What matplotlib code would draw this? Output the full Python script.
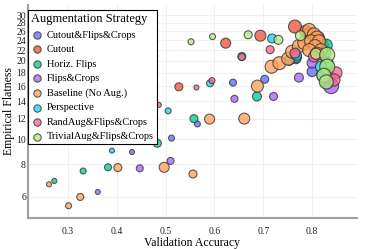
import matplotlib
matplotlib.use("Agg")
import matplotlib.pyplot as plt
from matplotlib.ticker import FixedLocator, FixedFormatter, NullLocator

plt.rcParams['font.family'] = ['Liberation Serif', 'DejaVu Serif']

# validation accuracy / empirical flatness / marker weight per strategy
acc_cfc = [0.431, 0.475, 0.512, 0.565, 0.638, 0.703, 0.767, 0.800, 0.835]
flat_cfc = [8.93, 20.6, 10.1, 11.45, 16.5, 17.0, 20.3, 18.2, 17.2]
w_cfc = [5, 6, 6, 6, 7, 8, 9, 10, 13]

acc_cutout = [0.527, 0.623, 0.694, 0.765, 0.787, 0.795, 0.812, 0.82]
flat_cutout = [15.9, 23.4, 25.0, 27.1, 26.0, 25.5, 24.5, 23.0]
w_cutout = [8, 10, 11, 13, 12, 12, 13, 13]

acc_hflip = [0.272, 0.331, 0.382, 0.483, 0.558, 0.656, 0.687, 0.753, 0.768,
             0.829, 0.826, 0.83, 0.828, 0.831]
flat_hflip = [6.91, 7.55, 7.8, 9.65, 12.0, 20.8, 14.6, 20.1, 20.6,
              23.0, 21.5, 19.5, 17.8, 16.5]
w_hflip = [5, 6, 7, 8, 8, 8, 9, 10, 10, 12, 12, 13, 13, 13]

acc_fc = [0.361, 0.447, 0.51, 0.641, 0.721, 0.773, 0.80, 0.839]
flat_fc = [6.27, 7.73, 8.25, 14.3, 14.6, 17.25, 19.6, 16.0]
w_fc = [5, 7, 7, 7, 8, 9, 10, 15]

acc_base = [0.261, 0.301, 0.325, 0.402, 0.497, 0.556, 0.59, 0.661, 0.688,
            0.717, 0.733, 0.751, 0.759, 0.773, 0.784, 0.794, 0.804, 0.810,
            0.798, 0.814, 0.806, 0.818, 0.794, 0.810]
flat_base = [6.71, 5.55, 6.0, 7.78, 7.8, 7.35, 11.95, 12.0, 16.0,
             19.0, 19.6, 20.4, 21.7, 22.8, 23.4, 26.3, 25.3, 24.6,
             23.8, 23.8, 22.8, 22.0, 22.0, 21.3]
w_base = [5, 6, 7, 8, 10, 8, 10, 11, 12, 13, 13, 13, 13, 13, 13, 13, 13, 13,
          13, 13, 13, 13, 13, 13]

acc_persp = [0.39, 0.505, 0.591, 0.718, 0.768, 0.818, 0.822]
flat_persp = [9.04, 12.85, 16.4, 24.4, 21.0, 19.0, 17.6]
w_persp = [5, 6, 7, 9, 10, 11, 12]

acc_rand = [0.486, 0.563, 0.595, 0.656, 0.714, 0.765, 0.804, 0.849, 0.845]
flat_rand = [13.55, 15.8, 16.8, 20.7, 22.1, 21.4, 20.8, 18.0, 16.9]
w_rand = [5, 5, 6, 7, 8, 10, 11, 12, 12]

acc_trivial = [0.552, 0.596, 0.669, 0.731, 0.776, 0.808, 0.831, 0.831, 0.824, 0.829]
flat_trivial = [23.7, 24.8, 25.2, 24.1, 25.0, 21.3, 21.1, 19.0, 17.6, 16.6]
w_trivial = [6, 6, 8, 9, 10, 11, 15, 15, 14, 14]

labels = ['Cutout&Flips&Crops', 'Cutout', 'Horiz. Flips', 'Flips&Crops',
          'Baseline (No Aug.)', 'Perspective', 'RandAug&Flips&Crops',
          'TrivialAug&Flips&Crops']
colors = ['#636EFA', '#EF553B', '#00CC96', '#AB63FA', '#FFA15A', '#19D3F3',
          '#FF6692', '#B6E880']
xs = [acc_cfc, acc_cutout, acc_hflip, acc_fc, acc_base, acc_persp, acc_rand, acc_trivial]
ys = [flat_cfc, flat_cutout, flat_hflip, flat_fc, flat_base, flat_persp, flat_rand, flat_trivial]
ws = [w_cfc, w_cutout, w_hflip, w_fc, w_base, w_persp, w_rand, w_trivial]

yticks = [6, 8, 10, 12, 14, 16, 18, 20, 22, 24, 26, 28, 30]
xticks = [0.3, 0.4, 0.5, 0.6, 0.7, 0.8]

fig = plt.figure(figsize=(3.73, 2.49), dpi=100)
ax = fig.add_axes([28 / 373, 1 - 218 / 249, 329 / 373, 213 / 249])

for x, y, w, lab, c in zip(xs, ys, ws, labels, colors):
    ax.scatter(x, y, s=[(0.72 * v) ** 2 for v in w], color=c, alpha=0.78,
               edgecolors='#333333', linewidths=0.8, label=lab, zorder=3)

ax.set_yscale('log')
ax.set_xlim(0.218, 0.892)
ax.set_ylim(4.98, 32.8)
ax.yaxis.set_major_locator(FixedLocator(yticks))
ax.yaxis.set_major_formatter(FixedFormatter([str(t) for t in yticks]))
ax.yaxis.set_minor_locator(NullLocator())
ax.set_xticks(xticks)
ax.set_xticklabels([str(t) for t in xticks])

ax.grid(True, color='#f0f0f0', linewidth=0.8, zorder=0)
for side in ['top', 'right']:
    ax.spines[side].set_visible(False)
for side in ['left', 'bottom']:
    ax.spines[side].set_color('#a0a0a0')
    ax.spines[side].set_linewidth(1.5)
ax.tick_params(axis='x', length=0, pad=6.5, labelsize=7, colors='#222222')
ax.tick_params(axis='y', length=0, pad=1.5, labelsize=7, colors='#222222')

ax.set_xlabel('Validation Accuracy', fontsize=8.5, labelpad=0.5)
ax.set_ylabel('Empirical Flatness', fontsize=8.5, labelpad=1)

leg = ax.legend(loc='upper left', bbox_to_anchor=(0, 0.977), borderaxespad=0,
                title='Augmentation Strategy', fontsize=7.5, title_fontsize=9,
                fancybox=False, edgecolor='black', framealpha=1,
                markerscale=1, handletextpad=0.3, labelspacing=0.5,
                borderpad=0.3, handlelength=1.2)
leg._legend_box.align = 'left'
leg.get_frame().set_linewidth(0.8)
for h in leg.legend_handles:
    h.set_sizes([28])
leg.set_zorder(5)

fig.savefig('out.png', dpi=100)
